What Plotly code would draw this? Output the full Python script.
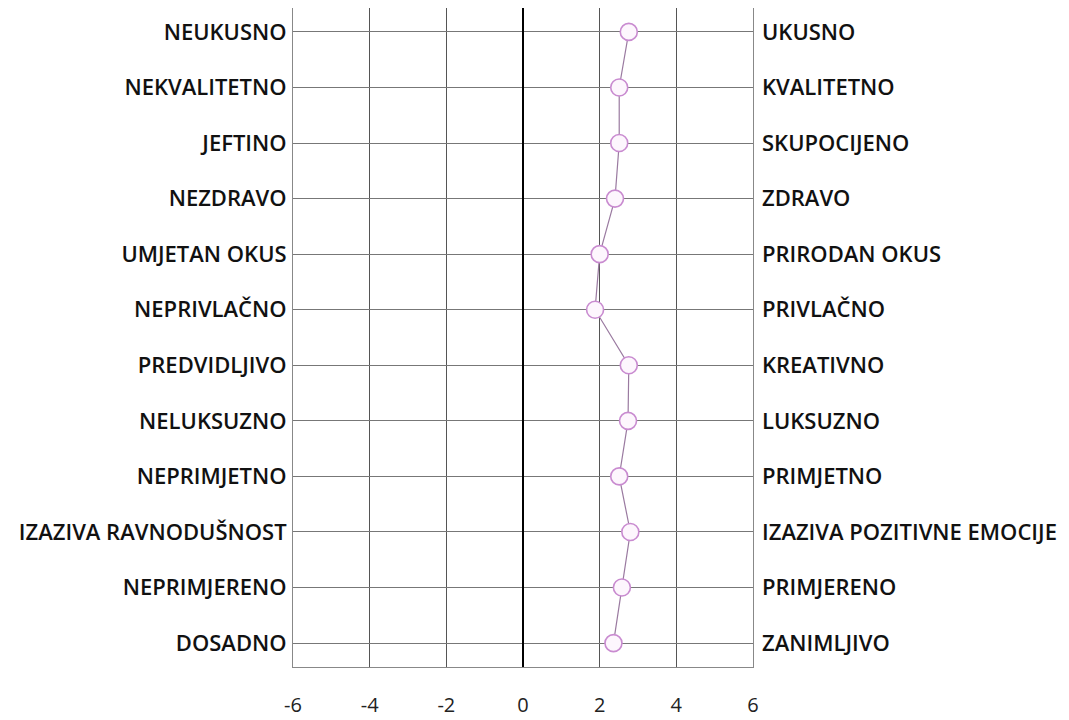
import plotly.graph_objects as go

left_labels = ["NEUKUSNO", "NEKVALITETNO", "JEFTINO", "NEZDRAVO", "UMJETAN OKUS",
               "NEPRIVLAČNO", "PREDVIDLJIVO", "NELUKSUZNO", "NEPRIMJETNO",
               "IZAZIVA RAVNODUŠNOST", "NEPRIMJERENO", "DOSADNO"]
right_labels = ["UKUSNO", "KVALITETNO", "SKUPOCIJENO", "ZDRAVO", "PRIRODAN OKUS",
                "PRIVLAČNO", "KREATIVNO", "LUKSUZNO", "PRIMJETNO",
                "IZAZIVA POZITIVNE EMOCIJE", "PRIMJERENO", "ZANIMLJIVO"]
values = [2.76, 2.51, 2.51, 2.40, 2.00, 1.88, 2.76, 2.74, 2.51, 2.80, 2.58, 2.36]
x_ticks = [-6, -4, -2, 0, 2, 4, 6]

rows = list(range(len(left_labels)))
font_family = "Open Sans, Lato, DejaVu Sans, sans-serif"
label_font = dict(size=22, family=font_family, color="#111111", weight=600)

fig = go.Figure()
fig.add_trace(go.Scatter(
    x=values, y=rows, mode="lines+markers",
    line=dict(color="#9a7aa0", width=1.2),
    marker=dict(symbol="circle", size=17, color="#fdf6fd",
                line=dict(color="#c98bd0", width=1.6)),
    showlegend=False, hoverinfo="x+y"))
fig.add_trace(go.Scatter(
    x=values, y=rows, mode="markers", yaxis="y2",
    marker=dict(opacity=0), showlegend=False, hoverinfo="skip"))

yrange = [len(rows) - 1 + 0.43, -0.43]
fig.update_layout(
    width=1069, height=720,
    margin=dict(l=285, r=324, t=0, b=61, autoexpand=False),
    paper_bgcolor="white", plot_bgcolor="white",
    font=dict(family=font_family, color="#111111", size=16),
    xaxis=dict(range=[-6, 6], tickvals=x_ticks, ticktext=[str(t) for t in x_ticks],
               showgrid=True, gridcolor="#555555", gridwidth=1,
               zeroline=True, zerolinecolor="#000000", zerolinewidth=2,
               showline=True, linecolor="#888888", linewidth=1, mirror=True,
               ticks="", ticklabelstandoff=20,
               tickfont=dict(size=20, family=font_family, color="#222222")),
    yaxis=dict(range=yrange, tickvals=rows, ticktext=left_labels,
               showgrid=True, gridcolor="#777777", gridwidth=1,
               zeroline=False, showline=True, linecolor="#888888", linewidth=1,
               mirror=True, ticks="", ticklabelstandoff=1, tickfont=label_font),
    yaxis2=dict(range=yrange, tickvals=rows, ticktext=right_labels,
                overlaying="y", side="right", showgrid=False, zeroline=False,
                showline=False, ticks="", ticklabelstandoff=8, tickfont=label_font),
)

fig.write_html("out.html")
